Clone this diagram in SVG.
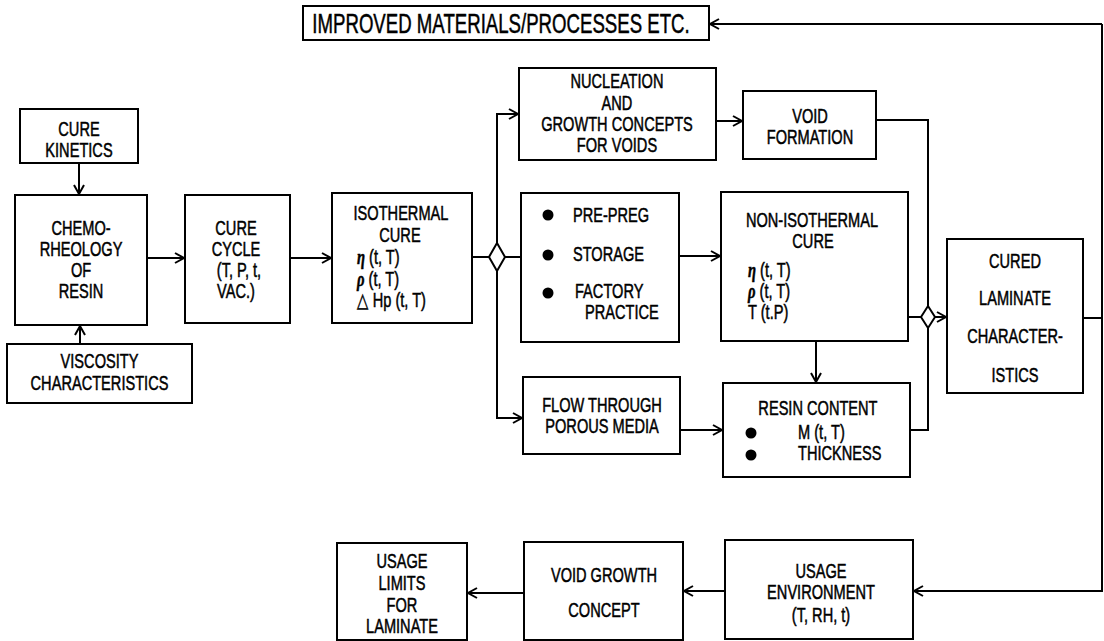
<svg xmlns="http://www.w3.org/2000/svg" width="1104" height="641" viewBox="0 0 1104 641">
<style>
.box{fill:#fff;stroke:#000;stroke-width:2}
.c{fill:none;stroke:#000;stroke-width:2}
text{font-family:"Liberation Sans",Arial,sans-serif;font-size:20px;fill:#000;stroke:#000;stroke-width:0.5}
.m{text-anchor:middle}
.g{font-family:"Liberation Serif","DejaVu Serif",serif;font-style:italic;font-weight:bold}
.big{font-size:27px}
</style>
<defs>
<marker id="ah" markerUnits="userSpaceOnUse" markerWidth="12" markerHeight="12" refX="9" refY="5" orient="auto" overflow="visible">
<path d="M0,0 L9,5 L0,10" fill="none" stroke="#000" stroke-width="2"/>
</marker>
</defs>
<rect width="1104" height="641" fill="#fff"/>
<g id="connectors">
<path class="c" d="M79,163 V194" marker-end="url(#ah)"/>
<path class="c" d="M80,344 V326" marker-end="url(#ah)"/>
<path class="c" d="M147,258 H184" marker-end="url(#ah)"/>
<path class="c" d="M290,258 H331" marker-end="url(#ah)"/>
<path class="c" d="M472,257 H489"/>
<path class="c" d="M497,243 V114 H518" marker-end="url(#ah)"/>
<path class="c" d="M505,257 H521"/>
<path class="c" d="M497,271 V418 H522" marker-end="url(#ah)"/>
<path class="c" d="M716,121 H742" marker-end="url(#ah)"/>
<path class="c" d="M679,256 H720" marker-end="url(#ah)"/>
<path class="c" d="M680,430 H722" marker-end="url(#ah)"/>
<path class="c" d="M816,341 V382" marker-end="url(#ah)"/>
<path class="c" d="M876,120 H928 V306"/>
<path class="c" d="M910,430 H928 V328"/>
<path class="c" d="M908,317 H921"/>
<path class="c" d="M935,317 H946" marker-end="url(#ah)"/>
<path class="c" d="M1083,318 H1102"/>
<path class="c" d="M1102,24 H710" marker-end="url(#ah)"/>
<path class="c" d="M1102,24 V591 H914" marker-end="url(#ah)"/>
<path class="c" d="M725,591 H684" marker-end="url(#ah)"/>
<path class="c" d="M524,593 H468" marker-end="url(#ah)"/>
<path class="box" d="M497,243 L505,257 L497,271 L489,257 Z"/>
<path class="box" d="M928,306 L935,317 L928,328 L921,317 Z"/>
</g>
<g id="improved">
<rect class="box" x="303" y="6" width="406" height="34"/>
<text class="m big" transform="scale(0.69 1)" x="726.1" y="33">IMPROVED MATERIALS/PROCESSES ETC.</text>
</g>
<g id="cure-kinetics">
<rect class="box" x="20" y="109" width="118" height="54"/>
<g transform="scale(0.73 1)">
<text class="m" x="108.2" y="136">CURE</text>
<text class="m" x="108.2" y="157">KINETICS</text>
</g>
</g>
<g id="chemorheology">
<rect class="box" x="15" y="195" width="132" height="130"/>
<g transform="scale(0.73 1)">
<text class="m" x="111" y="235">CHEMO-</text>
<text class="m" x="111" y="256">RHEOLOGY</text>
<text class="m" x="111" y="277">OF</text>
<text class="m" x="111" y="298">RESIN</text>
</g>
</g>
<g id="viscosity">
<rect class="box" x="7" y="344" width="185" height="59"/>
<g transform="scale(0.73 1)">
<text class="m" x="136.3" y="368">VISCOSITY</text>
<text class="m" x="136.3" y="390">CHARACTERISTICS</text>
</g>
</g>
<g id="cure-cycle">
<rect class="box" x="185" y="195" width="105" height="128"/>
<g transform="scale(0.73 1)">
<text class="m" x="323.3" y="235">CURE</text>
<text class="m" x="323.3" y="256">CYCLE</text>
<text class="m" x="327.4" y="277">(T, P, t,</text>
<text class="m" x="323.3" y="298">VAC.)</text>
</g>
</g>
<g id="isothermal">
<rect class="box" x="332" y="193" width="140" height="130"/>
<g transform="scale(0.73 1)">
<text class="m" x="549.3" y="220">ISOTHERMAL</text>
<text class="m" x="547.9" y="242">CURE</text>
<text x="489" y="264"><tspan class="g">η</tspan>  (t, T)</text>
<text x="489" y="286"><tspan class="g">ρ</tspan> (t, T)</text>
<text x="489" y="307">△ Hp (t, T)</text>
</g>
</g>
<g id="nucleation">
<rect class="box" x="519" y="68" width="197" height="92"/>
<g transform="scale(0.73 1)">
<text class="m" x="845.2" y="88">NUCLEATION</text>
<text class="m" x="845.2" y="110">AND</text>
<text class="m" x="845.2" y="131">GROWTH CONCEPTS</text>
<text class="m" x="845.2" y="152">FOR VOIDS</text>
</g>
</g>
<g id="void-formation">
<rect class="box" x="743" y="91" width="133" height="68"/>
<g transform="scale(0.73 1)">
<text class="m" x="1109.6" y="123">VOID</text>
<text class="m" x="1109.6" y="144">FORMATION</text>
</g>
</g>
<g id="prepreg">
<rect class="box" x="521" y="193" width="158" height="149"/>
<circle cx="548" cy="215" r="5.5"/>
<circle cx="548" cy="255" r="5.5"/>
<circle cx="548" cy="293" r="5.5"/>
<g transform="scale(0.73 1)">
<text x="784.9" y="222">PRE-PREG</text>
<text x="784.9" y="261">STORAGE</text>
<text x="787.7" y="298">FACTORY</text>
<text x="801.4" y="319">PRACTICE</text>
</g>
</g>
<g id="non-isothermal">
<rect class="box" x="721" y="192" width="187" height="149"/>
<g transform="scale(0.73 1)">
<text class="m" x="1112.3" y="227">NON-ISOTHERMAL</text>
<text class="m" x="1113.7" y="248">CURE</text>
<text x="1024.7" y="277"><tspan class="g">η</tspan>  (t, T)</text>
<text x="1024.7" y="298"><tspan class="g">ρ</tspan> (t, T)</text>
<text x="1024.7" y="319">T  (t.P)</text>
</g>
</g>
<g id="cured-laminate">
<rect class="box" x="947" y="239" width="136" height="154"/>
<g transform="scale(0.73 1)">
<text class="m" x="1390.4" y="268">CURED</text>
<text class="m" x="1390.4" y="305">LAMINATE</text>
<text class="m" x="1390.4" y="343">CHARACTER-</text>
<text class="m" x="1390.4" y="382">ISTICS</text>
</g>
</g>
<g id="flow">
<rect class="box" x="523" y="377" width="157" height="77"/>
<g transform="scale(0.73 1)">
<text class="m" x="824.7" y="412">FLOW THROUGH</text>
<text class="m" x="824.7" y="433">POROUS MEDIA</text>
</g>
</g>
<g id="resin-content">
<rect class="box" x="723" y="383" width="187" height="94"/>
<circle cx="751" cy="433" r="5.5"/>
<circle cx="751" cy="455" r="5.5"/>
<g transform="scale(0.73 1)">
<text class="m" x="1120.5" y="415">RESIN CONTENT</text>
<text x="1093.2" y="439">M  (t, T)</text>
<text x="1093.2" y="460">THICKNESS</text>
</g>
</g>
<g id="usage-environment">
<rect class="box" x="725" y="540" width="188" height="99"/>
<g transform="scale(0.73 1)">
<text class="m" x="1124.7" y="578">USAGE</text>
<text class="m" x="1124.7" y="599">ENVIRONMENT</text>
<text class="m" x="1124.7" y="622">(T, RH, t)</text>
</g>
</g>
<g id="void-growth">
<rect class="box" x="524" y="542" width="159" height="98"/>
<g transform="scale(0.73 1)">
<text class="m" x="827.4" y="582">VOID GROWTH</text>
<text class="m" x="827.4" y="617">CONCEPT</text>
</g>
</g>
<g id="usage-limits">
<rect class="box" x="337" y="543" width="130" height="97"/>
<g transform="scale(0.73 1)">
<text class="m" x="550.7" y="568">USAGE</text>
<text class="m" x="550.7" y="590">LIMITS</text>
<text class="m" x="550.7" y="612">FOR</text>
<text class="m" x="550.7" y="633">LAMINATE</text>
</g>
</g>
</svg>
